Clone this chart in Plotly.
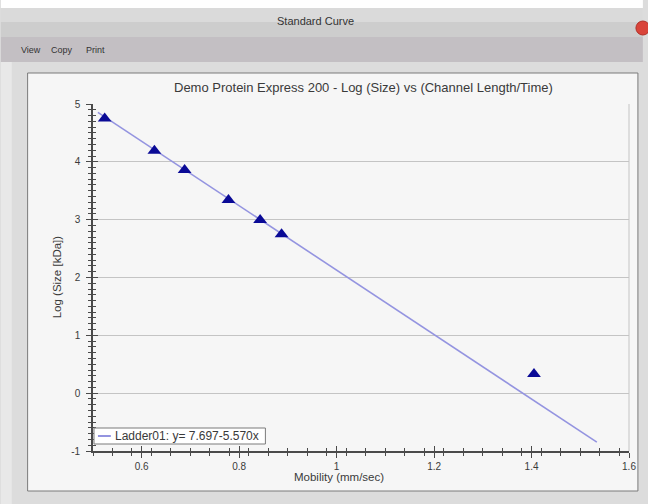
import plotly.graph_objects as go

# ---- data ----
mobility = [0.524, 0.626, 0.688, 0.778, 0.843, 0.887, 1.405]
log_size = [4.75, 4.19, 3.86, 3.34, 2.995, 2.75, 0.33]
fit_intercept = 7.697
fit_slope = -5.570
fit_x = [0.51, 1.534]
fit_y = [fit_intercept + fit_slope * v for v in fit_x]

x_tickvals = [0.6, 0.8, 1.0, 1.2, 1.4, 1.6]
x_ticktext = ["0.6", "0.8", "1", "1.2", "1.4", "1.6"]
y_tickvals = [-1, 0, 1, 2, 3, 4, 5]
y_ticktext = ["-1", "0", "1", "2", "3", "4", "5"]

chart_title = "Demo Protein Express 200 - Log (Size) vs (Channel Length/Time)"
x_title = "Mobility (mm/sec)"
y_title = "Log (Size [kDa])"
legend_name = "Ladder01: y= 7.697-5.570x"
window_title = "Standard Curve"
menu_items = ["View", "Copy", "Print"]

# ---- geometry helpers (pixels -> paper) ----
W, H = 648, 504
L, R, T, B = 93, 634, 104, 451
def px(x):
    return (x - L) / (R - L)
def py(y):
    return (B - y) / (B - T)

FONT = "Liberation Sans, Arial, sans-serif"
TXT = "#3a3a3a"
FIT_COLOR = "#9494e0"

fig = go.Figure()

fig.add_trace(go.Scatter(
    x=fit_x, y=fit_y, mode="lines", name=legend_name,
    line=dict(color=FIT_COLOR, width=1.6), showlegend=False, hoverinfo="skip"))
fig.add_trace(go.Scatter(
    x=mobility, y=log_size, mode="markers", showlegend=False,
    marker=dict(symbol="triangle-up", size=12, color="#0a0a96",
                line=dict(width=0))))
# empty trace so the overlay axes (inner half of crossing ticks) are drawn
fig.add_trace(go.Scatter(x=[], y=[], xaxis="x2", yaxis="y2", showlegend=False))

shapes = []
def rect(x0, y0, x1, y1, fill, line=None, lw=0, layer="below"):
    shapes.append(dict(type="rect", xref="paper", yref="paper", layer=layer,
                       x0=px(x0), x1=px(x1), y0=py(y0), y1=py(y1),
                       fillcolor=fill,
                       line=dict(color=line or fill, width=lw)))

rect(0, 0, W, 8, "#ffffff")
rect(0, 8, W, 22, "#dadada")
rect(0, 22, W, 37, "#cdcdcd")
rect(0, 37, W, 62, "#c3bfc3")
rect(0, 62, W, H, "#dcdcdc")
rect(0, 62, 11, H, "#e8e8e8")
rect(27, 73, 643, 491, "#f6f6f6", "#7a7a7a", 1)
# close button (partially visible)
shapes.append(dict(type="circle", xref="paper", yref="paper", layer="above",
                   x0=px(641), x1=px(655), y0=py(21), y1=py(35),
                   fillcolor="#d9443a", line=dict(color="#b03028", width=1)))
# right plot border
shapes.append(dict(type="line", xref="paper", yref="paper", layer="below",
                   x0=1, x1=1, y0=0, y1=1, line=dict(color="#c4c4c4", width=1)))
# legend box + line sample (compact, like the original control)
rect(94, 428, 267, 444, "#ffffff", "#7a7a7a", 1, layer="above")
shapes.append(dict(type="line", xref="paper", yref="paper", layer="above",
                   x0=px(98), x1=px(111), y0=py(436), y1=py(436),
                   line=dict(color=FIT_COLOR, width=2)))

annotations = [
    dict(text=window_title, x=px(318), y=py(21), xref="paper", yref="paper",
         showarrow=False, font=dict(family=FONT, size=11, color="#333333"),
         xanchor="center", yanchor="middle"),
    dict(text=chart_title, x=px(366), y=py(87), xref="paper", yref="paper",
         showarrow=False, font=dict(family=FONT, size=13, color=TXT),
         xanchor="center", yanchor="middle"),
    dict(text=x_title, x=px(341), y=py(477), xref="paper", yref="paper",
         showarrow=False, font=dict(family=FONT, size=11.5, color=TXT),
         xanchor="center", yanchor="middle"),
    dict(text=y_title, x=px(57), y=py(277), xref="paper", yref="paper",
         showarrow=False, textangle=-90,
         font=dict(family=FONT, size=11.5, color=TXT),
         xanchor="center", yanchor="middle"),
    dict(text=legend_name, x=px(113), y=py(436), xref="paper", yref="paper",
         showarrow=False, font=dict(family=FONT, size=12, color=TXT),
         xanchor="left", yanchor="middle"),
]
for name, cx in zip(menu_items, [30, 62, 96]):
    annotations.append(dict(text=name, x=px(cx), y=py(50), xref="paper",
                            yref="paper", showarrow=False,
                            font=dict(family=FONT, size=9, color="#333333"),
                            xanchor="center", yanchor="middle"))

axis_common = dict(showline=True, linecolor="#4a4a4a", linewidth=1.6,
                   tickcolor="#4a4a4a", zeroline=False,
                   tickfont=dict(family=FONT, size=10, color=TXT))

fig.update_layout(
    width=W, height=H,
    margin=dict(l=L, r=W - R, t=T, b=H - B, pad=0),
    paper_bgcolor="#dcdcdc",
    plot_bgcolor="#f6f6f6",
    shapes=shapes,
    annotations=annotations,
    showlegend=False,
    xaxis=dict(range=[0.5, 1.6], tickvals=x_tickvals, ticktext=x_ticktext,
               ticks="outside", ticklen=5, tickwidth=1, showgrid=False,
               minor=dict(dtick=0.04, tick0=0.5, ticks="outside", ticklen=3,
                          tickcolor="#4a4a4a", showgrid=False),
               **axis_common),
    yaxis=dict(range=[-1, 5], tickvals=y_tickvals, ticktext=y_ticktext,
               ticks="outside", ticklen=5, tickwidth=1, showgrid=True,
               gridcolor="#c4c4c4", gridwidth=1, ticklabelstandoff=4,
               minor=dict(dtick=0.1, tick0=0, ticks="outside", ticklen=3,
                          tickcolor="#4a4a4a", showgrid=False),
               **axis_common),
    xaxis2=dict(range=[0.5, 1.6], overlaying="x", anchor="y", side="bottom",
                tickvals=x_tickvals, ticks="inside", ticklen=5, tickwidth=1,
                tickcolor="#4a4a4a", showticklabels=False, showgrid=False,
                showline=False, zeroline=False,
                minor=dict(dtick=0.04, tick0=0.5, ticks="inside", ticklen=3,
                           tickcolor="#4a4a4a", showgrid=False)),
    yaxis2=dict(range=[-1, 5], overlaying="y", anchor="x", side="left",
                tickvals=y_tickvals, ticks="inside", ticklen=5, tickwidth=1,
                tickcolor="#4a4a4a", showticklabels=False, showgrid=False,
                showline=False, zeroline=False,
                minor=dict(dtick=0.1, tick0=0, ticks="inside", ticklen=3,
                           tickcolor="#4a4a4a", showgrid=False)),
)

fig.write_html(
    "out.html",
    config={"displayModeBar": False},
    post_script="document.body.style.margin='0px';"
                "document.body.style.overflow='hidden';",
)
